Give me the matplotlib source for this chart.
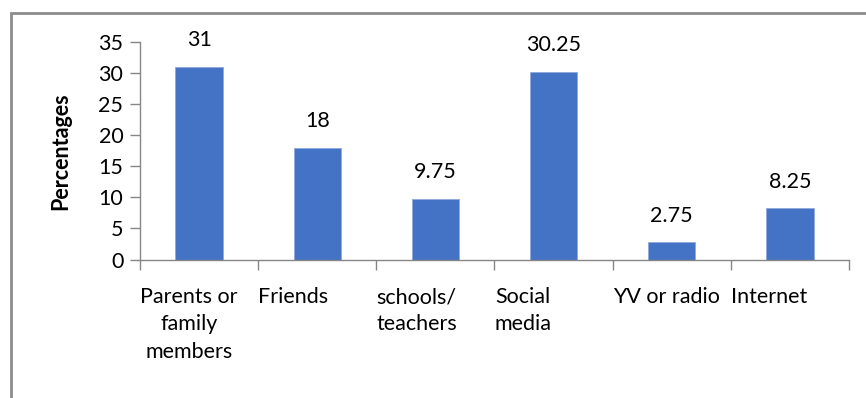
import matplotlib.pyplot as plt
import matplotlib.patches as patches
import numpy as np

# data
categories = ["Parents or\nfamily\nmembers", "Friends", "schools/\nteachers",
              "Social\nmedia", "YV or radio", "Internet"]
values = [31, 18, 9.75, 30.25, 2.75, 8.25]
value_labels = ["31", "18", "9.75", "30.25", "2.75", "8.25"]

plt.rcParams['font.family'] = ['Lato', 'DejaVu Sans']
axis_grey = '#868686'
fs = 15.5

fig = plt.figure(figsize=(8.66, 3.98), dpi=100)
ax = fig.add_axes([140 / 866, (398 - 259.5) / 398, 709 / 866, (259.5 - 42) / 398])

x = np.arange(len(values))
bars = ax.bar(x, values, width=0.4, color='#4472C4', edgecolor='#8fa9dc', linewidth=0.6)

# value labels above bars
for xi, v, lab in zip(x, values, value_labels):
    ax.annotate(lab, (xi, v), xytext=(0, 12), textcoords='offset points',
                ha='center', va='bottom', fontsize=fs)

ax.set_xlim(-0.5, len(values) - 0.5)
ax.set_ylim(0, 35)
ax.set_yticks(np.arange(0, 36, 5))

# ticks sit on category boundaries, labels start at the boundary
ax.set_xticks(np.arange(len(values) + 1) - 0.5)
ax.set_xticklabels(categories + [""], ha='left', multialignment='center',
                   fontsize=fs, linespacing=1.45)

ax.tick_params(axis='x', length=7, width=1, color=axis_grey, pad=13, direction='out')
ax.tick_params(axis='y', length=7, width=1, color=axis_grey, pad=5, labelsize=fs)

for side in ['top', 'right']:
    ax.spines[side].set_visible(False)
for side in ['left', 'bottom']:
    ax.spines[side].set_color(axis_grey)
    ax.spines[side].set_linewidth(1)

ax.set_ylabel("Percentages", fontsize=fs, fontweight='bold')
ax.yaxis.set_label_coords(-0.097, 0.5)

# grey outer frame (only left and top edges visible in the crop)
frame = patches.Rectangle((10.5 / 866, -0.2), 1.2, (398 - 13) / 398 + 0.2,
                          transform=fig.transFigure, fill=False,
                          edgecolor='#8c8c8c', linewidth=2, clip_on=False)
fig.patches.append(frame)

fig.savefig('out.png', dpi=100)
